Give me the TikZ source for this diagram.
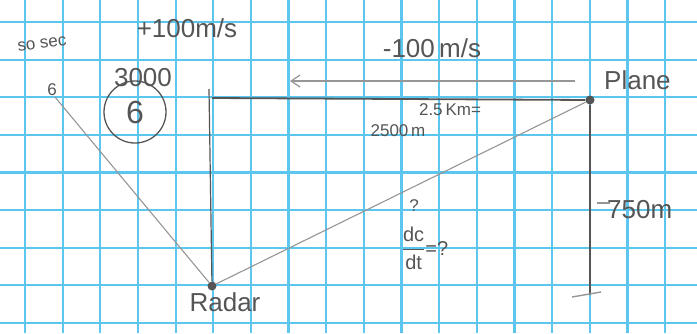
\documentclass[tikz,border=0pt]{standalone}
\usepackage{amsmath}
\usepackage{fontspec}
\setmainfont{Liberation Sans}
\usetikzlibrary{arrows.meta,calc}
\definecolor{gridblue}{RGB}{92,198,238}
\definecolor{pencil}{RGB}{85,85,85}
\definecolor{lightpencil}{RGB}{150,150,150}
\tikzset{
  hand/.style={text=pencil,inner sep=1pt,font=\fontsize{26}{28}\selectfont},
  smallhand/.style={text=pencil,inner sep=1pt,font=\fontsize{17}{19}\selectfont},
  dot/.style={circle,fill=pencil,inner sep=0pt,minimum size=9pt}
}

\begin{document}
\begin{tikzpicture}[x=1pt,y=-1pt]
  \useasboundingbox[fill=white] (0,0) rectangle (697,333);
  % squared paper
  \foreach \k in {0,...,17}
    \draw[gridblue,line width=2.2pt] ({25+37.65*\k},0) -- ({25+37.65*\k},333);
  \foreach \k in {0,...,8}
    \draw[gridblue,line width=2.2pt] (0,{22+37.6*\k}) -- (697,{22+37.6*\k});

  % points
  \node[dot] (radar) at (212,286) {};
  \node[dot] (plane) at (590,100) {};
  \coordinate (start) at (55,97);
  \coordinate (top) at (209,89);
  \coordinate (hl) at (212,98);
  \coordinate (foot) at (590,295);
  \coordinate (arrA) at (575,81);
  \coordinate (arrB) at (290,81);

  % sketch lines
  \draw[pencil,line width=1.8pt] (hl) -- (plane);
  \draw[pencil,line width=1.2pt] (top) -- (radar);
  \draw[lightpencil,line width=1.1pt] (start) -- (radar);
  \draw[lightpencil,line width=1.1pt] (radar) -- (plane);
  \draw[pencil,line width=1.4pt] (plane) -- (foot);
  \draw[lightpencil,line width=1.4pt] (572,297) -- (601,292);
  \draw[lightpencil,line width=1.4pt] (597,203) -- (610,203);
  \draw[lightpencil,line width=1.2pt,-{Straight Barb[length=9pt,width=12pt]}] (arrA) -- (arrB);

  % labels
  \node[hand,anchor=west] (planelbl) at (603,80) {Plane};
  \node[hand] (speed) at (432,48) {-100\,m/s};
  \node[smallhand] (km) at (450,110) {2.5\,Km=};
  \node[smallhand] (meters) at (398,131) {2500\,m};
  \node[hand,anchor=west] (alt) at (606,210) {750m};
  \node[smallhand] (qmark) at (414,206) {?};
  \node[hand,font=\fontsize{20}{22}\selectfont] (rate) at (425,248) {$\dfrac{\text{dc}}{\text{dt}}$=?};
  \node[hand] (radarlbl) at (225,302) {Radar};
  \node[hand] (vel) at (187,28) {+100m/s};
  \node[hand] (dist) at (143,78) {3000};
  \node[hand,circle,draw=pencil,line width=1.3pt,minimum size=62pt,font=\fontsize{32}{34}\selectfont] (six) at (135,112) {6};
  \node[smallhand] (sixs) at (52,90) {6};
  \node[smallhand,rotate=8] (scrib) at (42,44) {so sec};
\end{tikzpicture}
\end{document}
